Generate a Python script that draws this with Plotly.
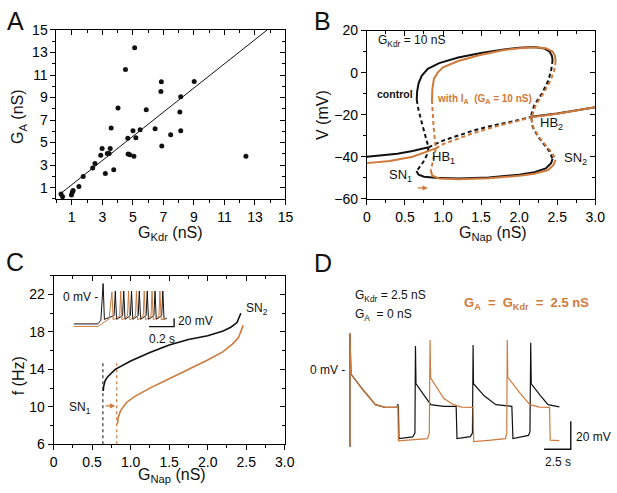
import plotly.graph_objects as go

W, H = 617, 493
ORANGE = "#cf7a3c"
BLACK = "#111111"
FONT = "Liberation Sans, Arial, sans-serif"

# ---------------- A: G_A vs G_Kdr
gkdr = [0.3, 0.4, 0.98, 1.04, 1.09, 1.47, 1.75, 2.37, 2.52, 2.9, 2.99, 3.2, 3.33, 3.45, 3.52,
        3.58, 3.75, 4.03, 4.52, 4.67, 4.69, 4.8, 5.01, 5.07, 5.12, 5.2, 5.48, 5.88, 6.46,
        6.84, 6.87, 6.9, 7.48, 8.08, 8.14, 8.14, 9.02, 12.41]
ga = [0.43, 0.2, 0.34, 0.6, 0.75, 1.1, 1.98, 2.75, 3.15, 3.87, 4.47, 2.26, 4.04, 4.04, 4.47,
      6.3, 2.58, 8.08, 11.49, 5.39, 3.98, 3.93, 6.05, 3.78, 13.41, 5.44, 6.13, 7.91, 6.22,
      9.54, 10.4, 4.7, 5.7, 7.71, 9.08, 6.05, 10.43, 3.78]
fit_x = [0.25, 13.8]
fit_y = [0.45, 15.0]

# ---------------- B: bifurcation diagrams (control = black, with I_A = orange)
k_rest1_x = [0, 0.2, 0.4, 0.6, 0.81]
k_rest1_y = [-40, -39.4, -38.5, -37.2, -35.5]
k_rest2_x = [0.81, 1.0, 1.4, 1.65, 2.0, 2.16]
k_rest2_y = [-35.5, -32.3, -27.5, -25.2, -22.5, -21]
k_rest3_x = [2.16, 2.5, 3.0]
k_rest3_y = [-21, -19.4, -16.5]
k_max_x = [0.655, 0.66, 0.68, 0.72, 0.8, 0.95, 1.2, 1.5, 1.8, 2.0, 2.2, 2.33, 2.4, 2.43, 2.44]
k_max_y = [-13, -9, -5, -1.5, 1.8, 4.5, 7.2, 9.3, 11, 11.8, 12.2, 11.5, 10, 8, 6]
k_min_x = [0.65, 0.68, 0.75, 0.9, 1.2, 1.6, 2.0, 2.2, 2.35, 2.42, 2.44]
k_min_y = [-46.7, -48.5, -49.5, -50, -50.3, -49.8, -48.5, -47.3, -45.5, -43, -41]
k_ul_x = [0.655, 0.68, 0.73, 0.78, 0.81, 0.79, 0.74, 0.68, 0.65]
k_ul_y = [-13, -18, -25, -31, -35.5, -39, -42.5, -45.5, -46.7]
k_ur_x = [2.44, 2.42, 2.38, 2.3, 2.2, 2.16, 2.16, 2.18, 2.25, 2.33, 2.4, 2.44]
k_ur_y = [6, 1, -4, -9.9, -15.3, -20, -21.5, -26, -30.5, -34.5, -37.5, -41]

o_rest1_x = [0, 0.3, 0.6, 0.905]
o_rest1_y = [-43, -42, -40, -36]
o_rest2_x = [0.905, 1.0, 1.4, 1.65, 2.0, 2.16]
o_rest2_y = [-36, -34, -28.7, -26, -22.8, -21.2]
o_rest3_x = [2.16, 2.5, 3.0]
o_rest3_y = [-21.2, -19.5, -16.5]
o_max_x = [0.855, 0.86, 0.88, 0.93, 1.0, 1.2, 1.5, 1.8, 2.0, 2.2, 2.35, 2.44, 2.47, 2.48]
o_max_y = [-13, -8, -3, 0, 2.5, 5.5, 8.5, 10.8, 11.6, 12.1, 11.6, 10, 8, 5.5]
o_min_x = [0.84, 0.86, 0.95, 1.2, 1.6, 2.0, 2.2, 2.38, 2.45, 2.48]
o_min_y = [-46.7, -49, -50.3, -50.7, -50.2, -49, -48, -46.3, -44, -41.5]
o_ul_x = [0.855, 0.86, 0.875, 0.89, 0.905, 0.88, 0.86, 0.84]
o_ul_y = [-13, -18, -25, -31, -36, -40, -43.5, -46.7]
o_ur_x = [2.48, 2.46, 2.41, 2.32, 2.22, 2.17, 2.16, 2.19, 2.27, 2.36, 2.43, 2.47, 2.48]
o_ur_y = [5.5, 1, -4, -9.9, -15.3, -20, -21.5, -26.5, -31, -35, -38, -40.5, -41.5]

# ---------------- C: firing frequency vs G_Nap
k_f_x = [0.645, 0.65, 0.67, 0.7, 0.8, 1.0, 1.25, 1.5, 1.75, 2.0, 2.2, 2.3, 2.38, 2.43]
k_f_y = [11.7, 12.2, 12.8, 13.2, 14.0, 14.9, 15.8, 16.6, 17.2, 17.6, 18.1, 18.5, 19.0, 20.0]
o_f_x = [0.83, 0.84, 0.87, 0.95, 1.05, 1.25, 1.5, 1.75, 2.0, 2.2, 2.32, 2.4, 2.46]
o_f_y = [8.2, 8.9, 9.6, 10.5, 11.1, 12.0, 13.0, 14.0, 15.0, 15.9, 16.7, 17.4, 18.7]
sn1_k, sn1_o = 0.64, 0.82

# inset of C: voltage traces (s, mV)
ins_k_t = [0, 0.19, 0.215, 0.233, 0.243, 0.32, 0.33, 0.34, 0.388, 0.397, 0.407, 0.45, 0.459,
           0.469, 0.512, 0.521, 0.531, 0.575, 0.584, 0.594, 0.637, 0.646, 0.656, 0.699, 0.708,
           0.718, 0.74]
ins_k_v = [-64, -64, -55, 33, -53, -44, 15, -53, -44, 15, -53, -44, 15, -53, -44, 15, -53,
           -44, 15, -53, -44, 15, -53, -44, 15, -53, -50]
ins_o_t = [0, 0.19, 0.28, 0.303, 0.313, 0.365, 0.373, 0.383, 0.427, 0.435, 0.445, 0.49, 0.498,
           0.508, 0.552, 0.56, 0.57, 0.614, 0.622, 0.632, 0.677, 0.685, 0.695, 0.73]
ins_o_v = [-70, -70, -52, 13, -54, -45, 15, -54, -45, 15, -54, -45, 15, -54, -45, 15, -54,
           -45, 15, -54, -45, 15, -54, -51]

# ---------------- D: voltage traces (s, mV)
d_k_t = [0, 0, 0.1, 1.2, 2.39, 3.3, 4.4, 4.5, 4.55, 4.6, 5.9, 6.1, 6.15, 6.2, 7.0, 7.59, 8.8,
         9.97, 10.05, 11.3, 11.5, 11.56, 11.6, 12.6, 13.7, 15.2, 15.3, 16.76, 16.9, 16.97,
         17.02, 17.9, 18.6, 19.66]
d_k_v = [-55, 26, -3, -14, -24.8, -26.7, -26.7, -24.5, -26.5, -49, -47.8, -45, 17, -9.9,
         -18.5, -24.8, -26, -26, -49, -47.6, -45, 17.7, -9.9, -18.5, -24.8, -26, -49, -46.7,
         -44, 19.3, -9.9, -18.5, -24.8, -26.4]
d_o_t = [0, 0, 0.1, 1.2, 2.39, 3.3, 4.43, 4.5, 4.55, 6.0, 7.28, 7.45, 7.52, 7.57, 8.8, 9.72,
         10.5, 11.56, 11.62, 13.0, 14.6, 14.72, 14.77, 14.82, 16.0, 16.9, 17.8, 18.74, 18.8,
         19.66]
d_o_v = [-55, 26.2, -3, -14, -24.8, -26.7, -26.7, -25, -50.6, -50, -49, -45, 21.2, -5.7,
         -20.2, -24.8, -26.5, -26.7, -51.2, -50.3, -49, -45, 21.2, -5.3, -17, -24.8, -26.5,
         -26.7, -50.1, -50.5]

ticks_a = [1, 3, 5, 7, 9, 11, 13, 15]
ticks_g = [0, 0.5, 1.0, 1.5, 2.0, 2.5, 3.0]
ticks_g_txt = ["0", "0.5", "1.0", "1.5", "2.0", "2.5", "3.0"]
ticks_v = [-60, -40, -20, 0, 20]
ticks_f = [6, 10, 14, 18, 22]


def px(x):
    return x / W


def py(y):
    return 1 - y / H


def axis(dom, rng, vals, txt, mdt, anchor, m0=0):
    return dict(domain=dom, range=rng, anchor=anchor, tickmode="array", tickvals=vals,
                ticktext=txt, ticks="outside", ticklen=5, tickwidth=1, tickcolor="black",
                showline=True, linecolor="black", linewidth=1, mirror=True,
                showgrid=False, zeroline=False,
                tickfont=dict(family=FONT, size=14, color="black"),
                minor=dict(tick0=m0, dtick=mdt, ticks="outside", ticklen=3,
                           tickcolor="black", tickwidth=1))


def overlay(base, rng, vals, mdt, side, anchor, m0=0):
    return dict(overlaying=base, side=side, anchor=anchor, range=rng, tickmode="array",
                tickvals=vals, showticklabels=False, ticks="inside", ticklen=5,
                tickcolor="black", showline=False, showgrid=False, zeroline=False,
                minor=dict(tick0=m0, dtick=mdt, ticks="inside", ticklen=3,
                           tickcolor="black"))


fig = go.Figure()

# A
fig.add_trace(go.Scatter(x=fit_x, y=fit_y, mode="lines", line=dict(color=BLACK, width=1),
                         xaxis="x", yaxis="y"))
fig.add_trace(go.Scatter(x=gkdr, y=ga, mode="markers", marker=dict(color=BLACK, size=5),
                         xaxis="x", yaxis="y"))


# B
def bline(x, y, color, dash=None):
    fig.add_trace(go.Scatter(x=x, y=y, mode="lines", xaxis="x2", yaxis="y2",
                             line=dict(color=color, width=2, dash=dash)))


DSH = "4px,3px"
for c, sets in [(BLACK, [(k_rest1_x, k_rest1_y, None), (k_rest2_x, k_rest2_y, DSH),
                         (k_rest3_x, k_rest3_y, None), (k_max_x, k_max_y, None),
                         (k_min_x, k_min_y, None), (k_ul_x, k_ul_y, DSH),
                         (k_ur_x, k_ur_y, DSH)]),
                (ORANGE, [(o_rest1_x, o_rest1_y, None), (o_rest2_x, o_rest2_y, DSH),
                          (o_rest3_x, o_rest3_y, None), (o_max_x, o_max_y, None),
                          (o_min_x, o_min_y, None), (o_ul_x, o_ul_y, DSH),
                          (o_ur_x, o_ur_y, DSH)])]:
    for x, y, d in sets:
        bline(x, y, c, d)

# C
fig.add_trace(go.Scatter(x=[sn1_k, sn1_k], y=[6, 14.8], mode="lines", xaxis="x3", yaxis="y3",
                         line=dict(color="#333333", width=1.2, dash="3px,3px")))
fig.add_trace(go.Scatter(x=[sn1_o, sn1_o], y=[6, 14.8], mode="lines", xaxis="x3", yaxis="y3",
                         line=dict(color=ORANGE, width=1.2, dash="3px,3px")))
fig.add_trace(go.Scatter(x=k_f_x, y=k_f_y, mode="lines", xaxis="x3", yaxis="y3",
                         line=dict(color=BLACK, width=1.6)))
fig.add_trace(go.Scatter(x=o_f_x, y=o_f_y, mode="lines", xaxis="x3", yaxis="y3",
                         line=dict(color=ORANGE, width=1.6)))

# C inset
fig.add_trace(go.Scatter(x=ins_k_t, y=ins_k_v, mode="lines", xaxis="x8", yaxis="y8",
                         line=dict(color=BLACK, width=1)))
fig.add_trace(go.Scatter(x=ins_o_t, y=ins_o_v, mode="lines", xaxis="x8", yaxis="y8",
                         line=dict(color=ORANGE, width=1)))
fig.add_trace(go.Scatter(x=[0.598, 0.798, 0.798], y=[-70.5, -70.5, -50.5], mode="lines",
                         xaxis="x8", yaxis="y8", line=dict(color=BLACK, width=1.4)))

# D
fig.add_trace(go.Scatter(x=d_k_t, y=d_k_v, mode="lines", xaxis="x4", yaxis="y4",
                         line=dict(color=BLACK, width=1.2)))
fig.add_trace(go.Scatter(x=d_o_t, y=d_o_v, mode="lines", xaxis="x4", yaxis="y4",
                         line=dict(color=ORANGE, width=1.2)))
fig.add_trace(go.Scatter(x=[18.23, 20.73, 20.73], y=[-56.6, -56.6, -36.6], mode="lines",
                         xaxis="x4", yaxis="y4", line=dict(color=BLACK, width=1.4)))

# dummy traces for the top/right tick overlays
for xa, ya in [("x5", "y5"), ("x6", "y6"), ("x7", "y7")]:
    fig.add_trace(go.Scatter(x=[None], y=[None], xaxis=xa, yaxis=ya))

A_X = [px(53.7), px(288)]
A_Y = [py(197.3), py(22.7)]
B_X = [px(371.3), px(605)]
B_Y = [py(197.3), py(23.3)]
C_X = [px(50.7), px(287.3)]
C_Y = [py(451), py(276.7)]

fig.update_layout(
    width=W, height=H, margin=dict(l=0, r=0, t=0, b=0), showlegend=False,
    paper_bgcolor="white", plot_bgcolor="rgba(0,0,0,0)",
    font=dict(family=FONT, size=12, color=BLACK),
    xaxis=axis(A_X, [0, 15], ticks_a, [str(v) for v in ticks_a], 1, "y"),
    yaxis=axis(A_Y, [0, 15], ticks_a, [str(v) for v in ticks_a], 1, "x"),
    xaxis5=overlay("x", [0, 15], ticks_a, 1, "top", "y"),
    yaxis5=overlay("y", [0, 15], ticks_a, 1, "right", "x"),
    xaxis2=axis(B_X, [0, 3], ticks_g, ticks_g_txt, 0.25, "y2"),
    yaxis2=axis(B_Y, [-60, 20], ticks_v, ["\u221260", "\u221240", "\u221220", "0", "20"], 10, "x2"),
    xaxis6=overlay("x2", [0, 3], ticks_g, 0.25, "top", "y2"),
    yaxis6=overlay("y2", [-60, 20], ticks_v, 10, "right", "x2"),
    xaxis3=axis(C_X, [0, 3], ticks_g, ticks_g_txt, 0.25, "y3"),
    yaxis3=axis(C_Y, [6, 24], ticks_f, [str(v) for v in ticks_f], 2, "x3"),
    xaxis7=overlay("x3", [0, 3], ticks_g, 0.25, "top", "y3"),
    yaxis7=overlay("y3", [6, 24], ticks_f, 2, "right", "x3"),
    xaxis4=dict(domain=[px(330), px(610)], range=[-2.2, 23.49], visible=False, anchor="y4"),
    yaxis4=dict(domain=[py(470), py(320)], range=[-66.2, 37.24], visible=False, anchor="x4"),
    xaxis8=dict(domain=[px(68), px(180)], range=[-0.027, 0.844], visible=False, anchor="y8"),
    yaxis8=dict(domain=[py(340), py(280)], range=[-95.3, 44.2], visible=False, anchor="x8"),
)


def note(text, x, y, size=12, color=BLACK, xanchor="center", yanchor="middle", angle=0,
         xref="paper", yref="paper"):
    fig.add_annotation(text=text, x=x, y=y, xref=xref, yref=yref, showarrow=False,
                       xanchor=xanchor, yanchor=yanchor, textangle=angle,
                       font=dict(family=FONT, size=size, color=color))


# panel letters
note("A", px(1), py(13), size=25, xanchor="left")
note("B", px(315), py(13), size=25, xanchor="left")
note("C", px(0), py(263), size=25, xanchor="left")
note("D", px(315), py(264), size=25, xanchor="left")

# axis titles
note("G<sub>Kdr</sub> (nS)", px(170), py(233), size=16)
note("G<sub>A</sub> (nS)", px(15), py(112), size=16, angle=-90)
note("G<sub>Nap</sub> (nS)", px(500), py(233), size=16)
note("V (mV)", px(326), py(111), size=16, angle=-90)
note("G<sub>Nap</sub> (nS)", px(172), py(483), size=16)
note("f (Hz)", px(15), py(380), size=16, angle=-90)

# B labels
note("G<sub>Kdr</sub> = 10 nS", px(381), py(34), size=12, xanchor="left")
note("<b>control</b>", px(400.5), py(89), size=10.5)
note("<b>with I<sub>A</sub>  (G<sub>A</sub> = 10 nS)</b>", px(441), py(94), size=10,
     color=ORANGE, xanchor="left")
note("HB<sub>2</sub>", px(546), py(119), size=13, xanchor="left")
note("HB<sub>1</sub>", px(436), py(154), size=13, xanchor="left")
note("SN<sub>1</sub>", px(420), py(173), size=13, xanchor="right")
note("SN<sub>2</sub>", px(571), py(156), size=13, xanchor="left")
fig.add_annotation(x=0.8, y=-54.8, ax=0.648, ay=-54.8, xref="x2", yref="y2", axref="x2",
                   ayref="y2", text="", showarrow=True, arrowhead=2, arrowsize=0.8,
                   arrowwidth=1.3, arrowcolor=ORANGE)

# C labels
note("SN<sub>1</sub>", px(91), py(413), size=12, xanchor="right")
note("SN<sub>2</sub>", px(246), py(311), size=12, xanchor="left")
fig.add_annotation(x=0.8, y=10.1, ax=0.655, ay=10.1, xref="x3", yref="y3", axref="x3",
                   ayref="y3", text="", showarrow=True, arrowhead=2, arrowsize=0.8,
                   arrowwidth=1.3, arrowcolor=ORANGE)
note("0 mV -", 0.21, 0, size=12, xanchor="right", xref="x8", yref="y8")
note("20 mV", 0.815, -56, size=12, xanchor="left", xref="x8", yref="y8")
note("0.2 s", 0.70, -78, size=12, yanchor="top", xref="x8", yref="y8")

# D labels
note("G<sub>Kdr</sub> = 2.5 nS", px(357), py(298), size=12, xanchor="left")
note("G<sub>A</sub>  = 0 nS", px(357), py(317), size=12, xanchor="left")
note("<b>G<sub>A</sub>  =  G<sub>Kdr</sub>  =  2.5 nS</b>", px(535), py(305), size=13,
     color=ORANGE)
note("0 mV -", -0.3, 0, size=12, xanchor="right", xref="x4", yref="y4")
note("20 mV", 21.0, -47.5, size=12, xanchor="left", xref="x4", yref="y4")
note("2.5 s", 19.5, -59, size=12, yanchor="top", xref="x4", yref="y4")

fig.write_html("out.html", config={"displayModeBar": False},
               post_script="document.body.style.margin = '0px';")
